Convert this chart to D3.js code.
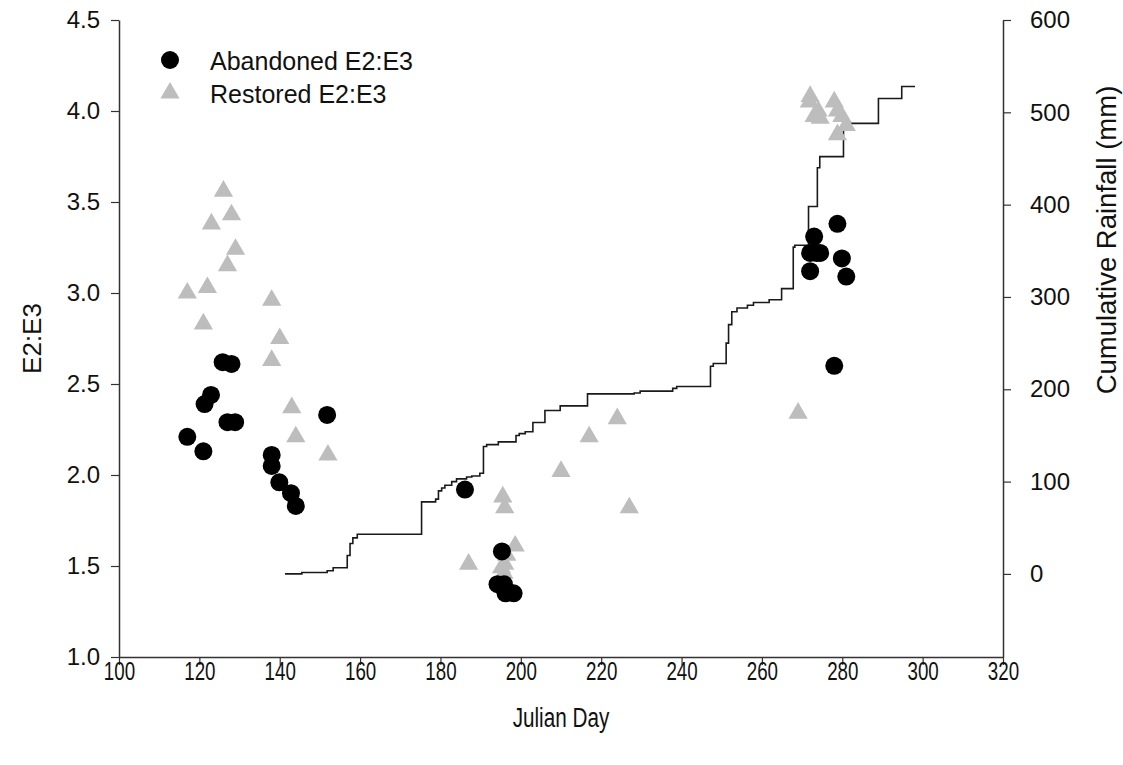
<!DOCTYPE html>
<html>
<head>
<meta charset="utf-8">
<script src="https://cdn.jsdelivr.net/npm/d3@7"></script>
<style>
  body { margin: 0; background: #fff; }
  svg { font-family: "Liberation Sans", Arial, sans-serif; }
</style>
</head>
<body>
<svg id="chart" width="1123" height="765"></svg>
<script>
// abandoned site, [julian day, E2:E3]
const abandoned = [
  [117, 2.21], [121, 2.13], [121.3, 2.39], [122.9, 2.44],
  [125.8, 2.62], [128, 2.61], [127, 2.29], [128.9, 2.29],
  [138, 2.11], [138, 2.05], [139.9, 1.96], [142.8, 1.90], [144, 1.83],
  [151.8, 2.33], [186.1, 1.92], [195.3, 1.58],
  [194.2, 1.40], [195.8, 1.40], [196.2, 1.35], [198.2, 1.35],
  [272, 3.12], [272, 3.22], [273, 3.31], [273.6, 3.22], [274.5, 3.22],
  [278.8, 3.38], [279.9, 3.19], [281, 3.09], [278, 2.60]
];

// restored site, [julian day, E2:E3]
const restored = [
  [117, 3.00], [121, 2.83], [122, 3.03], [123, 3.38], [126, 3.56],
  [127, 3.15], [128, 3.43], [129, 3.24], [138, 2.96], [138, 2.63],
  [140, 2.75], [143, 2.37], [144, 2.21], [152, 2.11],
  [187, 1.51], [195.5, 1.88], [196, 1.82], [198.6, 1.61],
  [196.5, 1.56], [196, 1.51], [195.8, 1.46], [195.2, 1.49],
  [210, 2.02], [217, 2.21], [224, 2.31], [227, 1.82], [269, 2.34],
  [272, 4.08], [271.8, 4.05], [273, 3.97], [274, 4.00], [274.5, 3.96],
  [278, 4.05], [278.8, 4.00], [279.9, 3.97], [281, 3.92], [278.8, 3.87]
];

// cumulative rainfall steps, [julian day, mm]
const rainfall = [
  [141.3, 0], [145.5, 1.5], [151.8, 3.5], [153.3, 6.7], [156.8, 20],
  [157.5, 33], [158.2, 39], [159.3, 43], [175.3, 78], [178.8, 81],
  [179.5, 90], [180.3, 93], [181.1, 96], [182.8, 100], [184.0, 103],
  [186.5, 105], [187.8, 106], [189.8, 109], [190.7, 138], [191.5, 140],
  [194.4, 143], [198.8, 150], [199.6, 152], [201.1, 154], [203.0, 164],
  [206.0, 177], [209.8, 182], [216.6, 195], [228.2, 196], [229.7, 198],
  [237.8, 201], [238.8, 203], [247.2, 225], [247.9, 228], [251.1, 250],
  [251.7, 270], [252.5, 284], [253.8, 288], [256.4, 291], [257.9, 294],
  [261.8, 297], [264.9, 309], [267.8, 354], [268.2, 356], [271.6, 398],
  [273.8, 440], [274.4, 452], [280.3, 488], [289.0, 515], [294.8, 528],
  [298.1, 528]
];

const xTicks = d3.range(100, 321, 20);
const yTicks = d3.range(1.0, 4.51, 0.5);
const rainTicks = d3.range(0, 601, 100);

const svg = d3.select("#chart");
const margins = {top: 20, left: 119, right: 120, bottom: 108};
const width = 1123, height = 765;

const x = d3.scaleLinear().domain([100, 320]).range([margins.left, width - margins.right]);
const y = d3.scaleLinear().domain([1.0, 4.5]).range([height - margins.bottom, margins.top]);
const yRain = d3.scaleLinear().domain([-90, 600]).range([height - margins.bottom, margins.top]);

function styleAxis(g) {
  g.select(".domain").attr("stroke", "#333").attr("stroke-width", 1.5);
  g.selectAll(".tick line").attr("stroke", "#333").attr("stroke-width", 1.2);
  g.selectAll(".tick text").attr("fill", "#111");
}

// x labels are drawn condensed, like the original figure
svg.append("g")
  .attr("transform", "translate(0," + (height - margins.bottom) + ")")
  .call(d3.axisBottom(x).tickValues(xTicks).tickSize(8).tickSizeOuter(0).tickPadding(-3))
  .attr("font-size", 25)
  .call(styleAxis)
  .call(g => g.selectAll(".tick text").attr("transform", "scale(0.75,1)"));

svg.append("g")
  .attr("transform", "translate(" + margins.left + ",0)")
  .call(d3.axisLeft(y).tickValues(yTicks).tickFormat(d3.format(".1f")).tickSize(8).tickSizeOuter(0).tickPadding(11))
  .attr("font-size", 24)
  .call(styleAxis);

svg.append("g")
  .attr("transform", "translate(" + (width - margins.right) + ",0)")
  .call(d3.axisRight(yRain).tickValues(rainTicks).tickSize(8).tickSizeOuter(0).tickPadding(19))
  .attr("font-size", 24)
  .call(styleAxis);

// axis titles
svg.append("text")
  .attr("transform", "translate(" + ((margins.left + width - margins.right) / 2) + ",727) scale(0.74,1)")
  .attr("text-anchor", "middle").attr("font-size", 28).attr("fill", "#111")
  .text("Julian Day");

svg.append("text")
  .attr("transform", "translate(41," + ((margins.top + height - margins.bottom) / 2) + ") rotate(-90)")
  .attr("text-anchor", "middle").attr("font-size", 26).attr("fill", "#111")
  .text("E2:E3");

svg.append("text")
  .attr("transform", "translate(1116,240) rotate(-90)")
  .attr("text-anchor", "middle").attr("font-size", 27.5).attr("fill", "#111")
  .text("Cumulative Rainfall (mm)");

// rainfall step line
const line = d3.line()
  .x(d => x(d[0]))
  .y(d => yRain(d[1]))
  .curve(d3.curveStepAfter);

svg.append("path")
  .datum(rainfall)
  .attr("d", line)
  .attr("fill", "none")
  .attr("stroke", "#1a1a1a")
  .attr("stroke-width", 1.6);

const tri = d3.symbol().type(d3.symbolTriangle).size(160);

svg.append("g").selectAll("path")
  .data(restored)
  .join("path")
  .attr("d", tri)
  .attr("transform", d => "translate(" + x(d[0]) + "," + y(d[1]) + ")")
  .attr("fill", "#bdbdbd");

svg.append("g").selectAll("circle")
  .data(abandoned)
  .join("circle")
  .attr("cx", d => x(d[0]))
  .attr("cy", d => y(d[1]))
  .attr("r", 9)
  .attr("fill", "#000");

// legend
const legend = svg.append("g").attr("font-size", 25).attr("fill", "#111");
legend.append("circle").attr("cx", 170).attr("cy", 60).attr("r", 9).attr("fill", "#000");
legend.append("path").attr("d", tri).attr("transform", "translate(170,93)").attr("fill", "#bdbdbd");
legend.append("text").attr("x", 210).attr("y", 70).text("Abandoned E2:E3");
legend.append("text").attr("x", 210).attr("y", 103).text("Restored E2:E3");
</script>
</body>
</html>
